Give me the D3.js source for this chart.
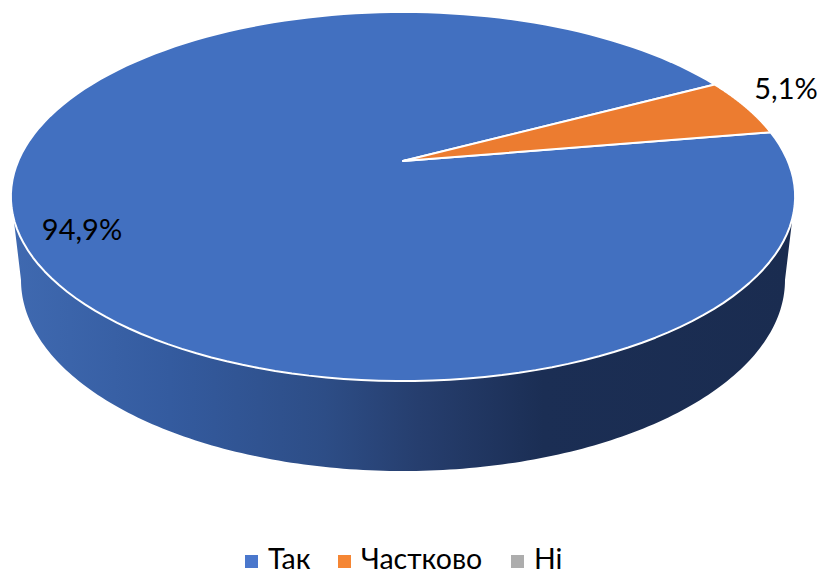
<!DOCTYPE html>
<html><head><meta charset="utf-8">
<script src="https://cdn.jsdelivr.net/npm/d3@7/dist/d3.min.js"></script>
<style>html,body{margin:0;padding:0;background:#fff}svg{display:block}text{font-family:Lato,"Open Sans",sans-serif;fill:#000}</style>
</head><body><svg id="c" width="821" height="575"></svg>
<script>
const categories = ["Так", "Частково", "Ні"];
const values = [94.9, 5.1, 0];
const labels = ["94,9%", "5,1%", ""];
const colors = ["#4270c0", "#ec7c30", "#a5a5a5"];
const legendColors = ["#4a77cc", "#f58634", "#adadad"];

const svg = d3.select("#c");
const rad = d => d * Math.PI / 180;

// Perspective projection of a circle onto the page
const apex = {x: 403, y: 161}, R = 384.8, ya = 146.7, k = -0.1924;
const project = (u, v) => {
  const d = 1 + k * v;
  return [apex.x + R * u / d, (ya * v + apex.y) / d];
};
const onRim = a => project(Math.sin(a), -Math.cos(a));

const pie = d3.pie().sort(null).value(d => d).startAngle(rad(80.4)).endAngle(rad(440.4));
const arcs = pie(values);

const line = d3.line();
const rimPoints = (a0, a1) => d3.range(0, 161).map(i => onRim(a0 + (a1 - a0) * i / 160));

// Side wall
const cx = 403, upper = {cy: 196.5, rx: 392, ry: 184.5}, lower = {cy: 280, rx: 382, ry: 191};
const grad = svg.append("defs").append("linearGradient").attr("id", "side")
  .attr("gradientUnits", "userSpaceOnUse").attr("x1", 14).attr("x2", 793).attr("y1", 0).attr("y2", 0);
[[0, "#3f69b0"], [0.2, "#345b9f"], [0.4, "#2d4d86"], [0.52, "#263e6e"], [0.68, "#1b2e54"], [1, "#1a2c50"]]
  .forEach(([o, c]) => grad.append("stop").attr("offset", o).attr("stop-color", c));
const halfEllipse = (e, from, to) => d3.range(0, 181).map(i => {
  const t = from + (to - from) * i / 180;
  return [cx + e.rx * Math.cos(t), e.cy + e.ry * Math.sin(t)];
});
svg.append("path").attr("fill", "url(#side)")
  .attr("d", line(halfEllipse(lower, Math.PI, 0).concat(halfEllipse(upper, 0, Math.PI))) + "Z");

// Slices
svg.selectAll("path.slice").data(arcs.filter(d => d.value > 0)).join("path")
  .attr("class", "slice")
  .attr("fill", d => colors[d.index])
  .attr("stroke", "#fff").attr("stroke-width", 2).attr("stroke-linejoin", "round")
  .attr("d", d => line([[apex.x, apex.y]].concat(rimPoints(d.startAngle, d.endAngle))) + "Z");

// Data labels
const labelPos = [[82, 233], [786, 92]];
svg.selectAll("text.lab").data(labels.filter(l => l)).join("text")
  .attr("class", "lab").attr("text-anchor", "middle").attr("dominant-baseline", "middle")
  .attr("font-size", 29).attr("x", (d, i) => labelPos[i][0]).attr("y", (d, i) => labelPos[i][1])
  .text(d => d);

// Legend
const legendX = [245, 338, 511];
const g = svg.selectAll("g.leg").data(categories).join("g").attr("class", "leg")
  .attr("transform", (d, i) => `translate(${legendX[i]},555)`);
g.append("rect").attr("width", 13).attr("height", 13).attr("fill", (d, i) => legendColors[i]);
g.append("text").attr("x", 23).attr("y", 14).attr("font-size", 28.5).text(d => d);
</script></body></html>
